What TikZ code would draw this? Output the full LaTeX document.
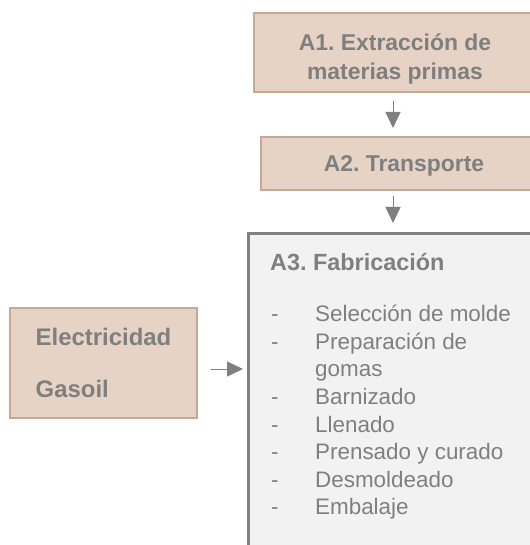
\documentclass[tikz,border=0pt]{standalone}
\usepackage{fontspec}
\setmainfont{Liberation Sans}
\frenchspacing
\usetikzlibrary{arrows.meta, calc}
\definecolor{tan}{RGB}{230,211,197}
\definecolor{tanborde}{RGB}{199,168,148}
\definecolor{gristexto}{RGB}{127,127,127}
\definecolor{grisfondo}{RGB}{242,242,242}
\definecolor{grisborde}{RGB}{128,128,128}
\tikzset{
	caja/.style={draw=tanborde, fill=tan, line width=2bp, text=gristexto, font=\bfseries\fontsize{23}{29}\selectfont, align=center, inner sep=0pt},
	flecha/.style={draw=gristexto, line width=1bp, -{Triangle[length=16bp,width=15bp]}},
	texto/.style={text=gristexto, inner sep=0pt, align=left}
}
\newcommand{\guion}{\makebox[44bp][l]{-}}

\begin{document}
\begin{tikzpicture}[x=1bp, y=-1bp]
	\useasboundingbox (0,0) rectangle (530,545);
	\clip (0,0) rectangle (530,545);
	\node[caja, minimum width=282bp, minimum height=79bp] (A1) at (395,52.5) {\raisebox{-7bp}[\height][\depth]{\begin{tabular}{@{}c@{}}A1. Extracción de\\materias primas\end{tabular}}};
	\node[caja, minimum width=286bp, minimum height=53bp] (A2) at (404,163.5) {\raisebox{-2bp}[\height][\depth]{A2. Transporte}};
	\node[draw=grisborde, fill=grisfondo, line width=2.5bp, minimum width=320bp, minimum height=340bp, anchor=north west] (A3) at (247,232) {};
	\node[texto, font=\bfseries\fontsize{23.5}{29}\selectfont, anchor=base west] (A3t) at (270,270) {A3. Fabricación};
	\node[texto, font=\fontsize{22.5}{27.7}\selectfont, anchor=north west] (A3l) at (271,305) {\guion Selección de molde\\
		\guion Preparación de\\
		\hspace*{44bp}gomas\\
		\guion Barnizado\\
		\guion Llenado\\
		\guion Prensado y curado\\
		\guion Desmoldeado\\
		\guion Embalaje};
	\node[caja, align=left, font=\bfseries\fontsize{24}{29}\selectfont, minimum width=187bp, minimum height=110bp] (ener) at (103.5,363) {Electricidad\\[24bp]Gasoil};
	\coordinate (ax) at (393,0);
	\draw[flecha, shorten <=8bp, shorten >=8bp] (A1.south -| ax) -- (A2.north -| ax);
	\draw[flecha, shorten <=5bp, shorten >=9bp] (A2.south -| ax) -- (A3.north -| ax);
	\draw[flecha, shorten <=13bp, shorten >=4bp] ([yshift=-6bp]ener.east) -- ([yshift=-6bp]ener.east -| A3.west);
\end{tikzpicture}
\end{document}
